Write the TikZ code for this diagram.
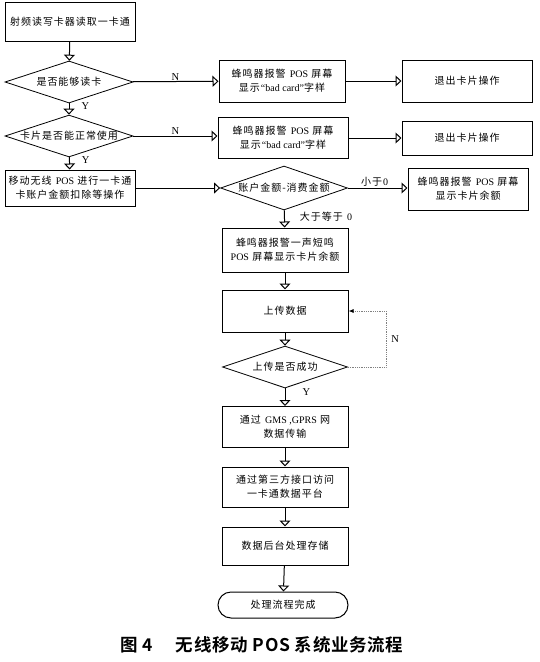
\documentclass[tikz,border=0pt]{standalone}
\usepackage{fontspec}
\setmainfont{Liberation Serif}
\newfontfamily\cjk[LetterSpace=10]{Noto Sans CJK SC}
\newfontfamily\cjkb[LetterSpace=4]{Noto Sans CJK SC Bold}
\usetikzlibrary{shapes.geometric,arrows.meta,calc}
\begin{document}
\begin{tikzpicture}[x=1pt,y=1pt,
  every node/.style={font=\cjk\fontsize{10}{14}\selectfont, align=center, inner sep=1pt},
  box/.style={draw, line width=1pt, minimum width=126pt, minimum height=40pt},
  dia/.style={draw, line width=0.8pt, diamond, aspect=3, minimum width=128pt, minimum height=42pt, inner sep=0pt},
  flow/.style={line width=1pt, -{Triangle[open, length=6pt, width=11pt]}},
  lab/.style={font=\fontsize{10}{12}\selectfont\cjk, inner sep=1pt},
  ylab/.style={font=\rmfamily\fontsize{10.5}{12}\selectfont, inner sep=1pt},
  loopline/.style={densely dotted, line width=0.8pt, gray, -{Latex[length=5pt,width=4pt,black]}}
]
\useasboundingbox (0,0) rectangle (540,-662);
% nodes
\node[box, minimum width=130pt, minimum height=39pt] (b1) at (70,-22) {射频读写卡器读取一卡通};
\node[dia] (d1) at (69,-82) {是否能够读卡};
\node[box, minimum height=42pt] (bad1) at (282,-81) {蜂鸣器报警 \textrm{POS} 屏幕\\显示\textrm{“bad card”}字样};
\node[box, minimum width=130pt, minimum height=42pt] (exit1) at (467,-81) {退出卡片操作};
\node[dia, minimum height=40pt] (d2) at (69,-136) {卡片是否能正常使用};
\node[box, minimum width=130pt, minimum height=41pt] (bad2) at (283,-138) {蜂鸣器报警 \textrm{POS} 屏幕\\显示\textrm{“bad card”}字样};
\node[box, minimum width=130pt, minimum height=34pt] (exit2) at (467,-138) {退出卡片操作};
\node[box, minimum width=130pt, minimum height=36pt] (b3) at (70,-188) {移动无线 \textrm{POS} 进行一卡通\\卡账户金额扣除等操作};
\node[dia, minimum width=127pt, minimum height=44pt] (d3) at (284,-188) {账户金额-消费金额};
\node[box, minimum width=120pt, minimum height=42pt] (r3) at (468,-189) {蜂鸣器报警 \textrm{POS} 屏幕\\显示卡片余额};
\node[box, minimum height=44pt] (b4) at (285,-250) {蜂鸣器报警一声短鸣\\\textrm{POS} 屏幕显示卡片余额};
\node[box, minimum height=42pt] (b5) at (285,-311) {上传数据};
\node[dia, minimum width=125pt, minimum height=42pt] (d4) at (285,-367) {上传是否成功};
\node[box, minimum height=41pt] (b6) at (285,-427) {通过 \textrm{GMS ,GPRS} 网\\数据传输};
\node[box, minimum height=40pt] (b7) at (285,-487) {通过第三方接口访问\\一卡通数据平台};
\node[box, minimum height=38pt] (b8) at (285,-546) {数据后台处理存储};
\node[draw, line width=1pt, rounded corners=13pt, minimum width=130pt, minimum height=26pt] (end) at (283,-605) {处理流程完成};
\node[font=\cjkb\fontsize{17.5}{20}\selectfont] (cap) at (262,-645) {图 4\hspace{1.3em}无线移动 POS 系统业务流程};
% connectors
\draw[flow] (b1) -- (d1);
\draw[flow] (d1) -- node[ylab, right, pos=0.2, xshift=11pt] (y1) {Y} (d2);
\draw[flow] (d1) -- node[ylab, above] (n1) {N} (bad1);
\draw[flow] (bad1) -- (exit1);
\draw[flow] (d2) -- node[ylab, right, pos=0.2, xshift=11pt] (y2) {Y} (b3);
\draw[flow] (d2) -- node[ylab, above] (n2) {N} (d2 -| bad2.west);
\draw[flow] (bad2) -- (bad2 -| exit2.west);
\draw[flow] (b3) -- (d3);
\draw[flow] (d3) -- node[lab, above, pos=0.45] (lt) {小于\textrm{0}} (d3 -| r3.west);
\draw[flow] (d3) -- node[lab, right, pos=0.4, xshift=14pt] (ge) {大于等于 \textrm{0}} (b4);
\draw[flow] (b4) -- (b5);
\draw[flow] (b5) -- (d4);
\draw[flow] (d4) -- node[ylab, right, pos=0.2, xshift=16pt] (y3) {Y} (b6);
\coordinate (lp1) at (386,-367);
\coordinate (lp2) at (386,-311);
\draw[loopline] (d4.east) -- (lp1) -- node[ylab, right, xshift=4pt, black] (n3) {N} (lp2) -- (b5.east);
\draw[flow] (b6) -- (b7);
\draw[flow] (b7) -- (b8);
\draw[flow] (b8) -- (end);
\end{tikzpicture}
\end{document}
